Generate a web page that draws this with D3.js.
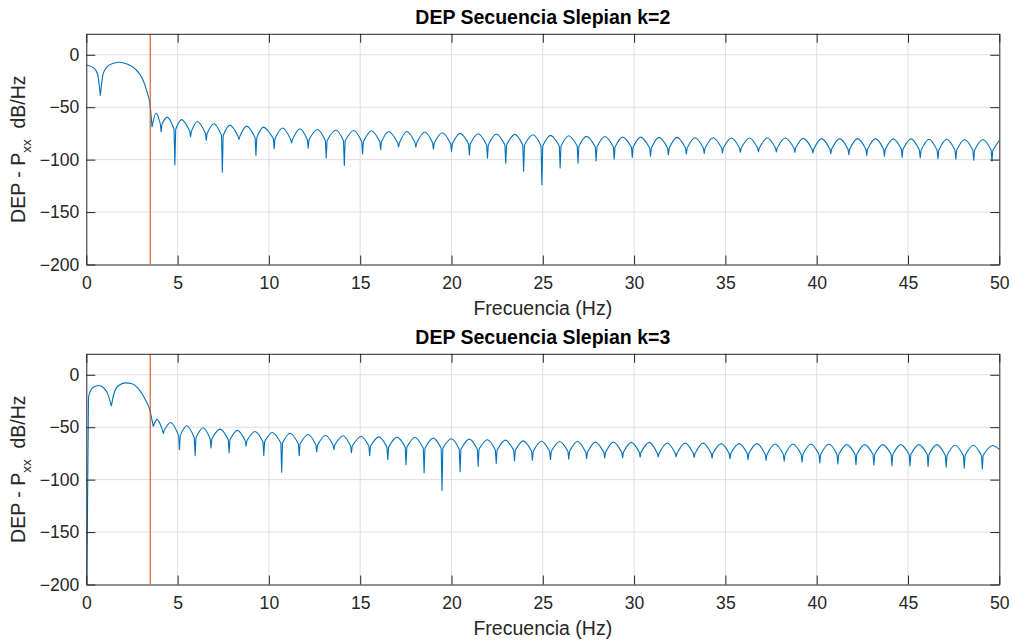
<!DOCTYPE html>
<html>
<head>
<meta charset="utf-8">
<script src="https://cdn.jsdelivr.net/npm/d3@7"></script>
<style>
    body { margin: 0; background: #ffffff; }
    svg { display: block; font-family: "Liberation Sans", Arial, sans-serif; }
    .axis path, .axis line { stroke: #262626; }
    .axis text { fill: #262626; font-size: 17.6px; }
    .grid line { stroke: #dfdfdf; stroke-width: 1; }
    .title { font-weight: bold; font-size: 19.5px; fill: #000; }
    .label { font-size: 19.5px; fill: #262626; white-space: pre; }
</style>
</head>
<body>
<svg id="chart" width="1013" height="644"></svg>
<script>

var freqTicks = [0, 5, 10, 15, 20, 25, 30, 35, 40, 45, 50];
var dbTicks = [-200, -150, -100, -50, 0];
var cutoffFreq = 3.5;

// Curve shape points [freq, dB] (lobe tops and main lobe outline), k=2
var k2Points = [
    [0, -9.7], [0.4, -12.3], [0.62, -18.6],
    [0.91, -19], [1.13, -11.5], [1.5, -8.1], [1.8, -7.2], [2.23, -8.8], [2.68, -13.5], [3.05, -22], [3.32, -35], [3.5, -49],
    [3.82, -55.5], [4.43, -59.5], [5.22, -61.8], [6.08, -63.6], [6.99, -65.8], [7.86, -67.1], [8.78, -68], [9.69, -69],
    [10.75, -69.9], [11.7, -70.6], [12.66, -71.2], [13.67, -71.8], [14.65, -72.2], [15.62, -72.5], [16.55, -73.1],
    [17.56, -73.1], [18.54, -73.7], [19.5, -74.4], [20.47, -75], [21.46, -75.3], [22.46, -75.6], [23.47, -75.9],
    [24.47, -76.3], [25.42, -76.9], [26.42, -77.2], [27.4, -77.8], [28.4, -78], [29.37, -78.5], [30.36, -78.5],
    [31.36, -78.8], [32.35, -78.8], [33.33, -79.1], [34.33, -79.1], [35.33, -79.4], [36.32, -79.4], [37.3, -79.4],
    [38.28, -79.4], [39.27, -79.7], [40.27, -80], [41.26, -80], [42.24, -80], [43.22, -80], [44.2, -80.2],
    [45.17, -80.2], [46.15, -80.5], [47.12, -80.5], [48.1, -80.8], [49.1, -80.8], [50, -81.5]
];

// Nulls [freq, dB where the lobes meet, dB at bottom of the notch], k=2
var k2Nulls = [
    [0.77, -39, -39], [3.6, -69, -69], [4.1, -66, -73.5], [4.85, -71, -105], [5.71, -73, -78], [6.57, -75, -81.6],
    [7.45, -77, -112], [8.36, -78, -80.7], [9.29, -79, -96], [10.29, -80, -89.6], [11.24, -81, -84], [12.15, -81, -89],
    [13.14, -82, -98.4], [14.13, -82, -105.5], [15.13, -83, -94.5], [16.12, -83, -90.5], [17.1, -84, -88],
    [18.05, -84, -88], [19.01, -84, -90], [20.0, -85, -92.3], [20.98, -85, -95.5], [21.97, -86, -98.6],
    [22.97, -86, -103.5], [23.95, -86, -111], [24.95, -87, -124], [25.95, -87, -108], [26.93, -87, -103.5],
    [27.92, -88, -101.2], [28.91, -88, -99.5], [29.9, -88, -98], [30.9, -89, -96.8], [31.88, -89, -95.5],
    [32.86, -89, -94.5], [33.84, -89, -94], [34.84, -89, -93.5], [35.82, -89, -93], [36.81, -89, -92.7],
    [37.79, -89, -92.7], [38.8, -89, -93], [39.79, -90, -93.7], [40.77, -90, -94.3], [41.76, -90, -95.3],
    [42.74, -90, -96], [43.71, -90, -96.8], [44.68, -90, -97.8], [45.67, -91, -98.4], [46.64, -91, -99],
    [47.62, -91, -99.7], [48.6, -91, -100.5], [49.6, -91, -101.5]
];

// Same for k=3
var k3Points = [
    [0.03, -200], [0.12, -22], [0.22, -15.6], [0.4, -11.8], [0.67, -10.2], [0.95, -12.4], [1.22, -20.4],
    [1.5, -18.8], [1.77, -10.2], [2.14, -7.7], [2.5, -8.6], [2.86, -13.4], [3.23, -23.6], [3.5, -35], [3.63, -46],
    [3.87, -42.5], [4.62, -45.5], [5.5, -48.6], [6.4, -50.5], [7.33, -51.8], [8.28, -53], [9.24, -54.1],
    [10.18, -55], [11.16, -55.8], [12.15, -57], [13.1, -57.9], [14.07, -58.2], [15.05, -58.8], [16.03, -59.2],
    [17.02, -59.5], [18.0, -59.8], [19.0, -60.4], [20.0, -61], [20.98, -61.4], [21.97, -62], [22.95, -62.3],
    [23.93, -63], [24.93, -63.4], [25.92, -63.6], [26.9, -63.6], [27.88, -64.2], [28.87, -64.2], [29.85, -64.5],
    [30.83, -64.5], [31.82, -65], [32.8, -65.2], [33.78, -65.2], [34.77, -65.7], [35.75, -65.7], [36.73, -65.7],
    [37.72, -66], [38.7, -66], [39.68, -66], [40.67, -66], [41.65, -66.6], [42.63, -66.6], [43.62, -66.6],
    [44.6, -66.6], [45.6, -66.6], [46.58, -66.6], [47.57, -67.2], [48.57, -67.2], [49.62, -67.4], [50, -71]
];

var k3Nulls = [
    [1.37, -30, -30], [3.67, -49.4, -49.4], [4.22, -53, -56], [5.1, -58, -71.4], [5.96, -60, -77.2],
    [6.83, -61, -69.8], [7.82, -62, -74.6], [8.75, -63, -68], [9.72, -64, -77], [10.7, -65, -93],
    [11.66, -66, -77.2], [12.62, -67, -73.5], [13.56, -67, -71.4], [14.52, -68, -74.3], [15.52, -68, -77.2],
    [16.51, -69, -81], [17.51, -69, -85.8], [18.5, -70, -93.4], [19.48, -70, -110.3], [20.47, -71, -92.5],
    [21.46, -71, -87.3], [22.45, -72, -84.5], [23.45, -72, -82.3], [24.43, -73, -81.5], [25.42, -73, -81],
    [26.42, -73, -80.4], [27.4, -74, -80], [28.39, -74, -79.4], [29.37, -74, -79.2], [30.33, -74, -78.5],
    [31.32, -75, -78.3], [32.3, -75, -78.3], [33.29, -75, -78.8], [34.27, -75, -79.4], [35.25, -75, -80.2],
    [36.24, -75, -81], [37.23, -76, -81.6], [38.22, -76, -82.5], [39.2, -76, -83.4], [40.17, -76, -84.2],
    [41.16, -76, -85], [42.15, -76, -85.7], [43.13, -76, -86], [44.12, -76, -86.6], [45.11, -76, -87],
    [46.1, -76, -87.5], [47.09, -77, -88.2], [48.08, -77, -89], [49.07, -77, -89.8]
];

var panels = [
    { title: 'DEP Secuencia Slepian k=2', top: 33.8, points: k2Points, nulls: k2Nulls },
    { title: 'DEP Secuencia Slepian k=3', top: 353.8, points: k3Points, nulls: k3Nulls }
];

var plotLeft = 86.3;
var plotRight = 999.3;
var plotHeight = 230.7;
var tickLen = 9;
var notchHalfWidth = 0.045;   // Hz, how wide the V of a notch opens at the top

var svg = d3.select('svg#chart');

var x = d3.scaleLinear().domain([0, 50]).range([0, plotRight - plotLeft]);

// Builds one path: smooth lobes between nulls, plus the narrow notch at each null.
function spectrumPath(points, nulls, y) {
    var line = d3.line()
        .x(function(d) { return x(d[0]); })
        .y(function(d) { return y(d[1]); })
        .curve(d3.curveMonotoneX);
    var edges = [null].concat(nulls, [null]);
    var d = '';
    for (var i = 0; i < edges.length - 1; i++) {
        var left = edges[i];
        var right = edges[i + 1];
        var seg = points.filter(function(p) {
            return (!left || p[0] > left[0]) && (!right || p[0] < right[0]);
        });
        if (left) seg.unshift([left[0] + (left[2] < left[1] ? notchHalfWidth : 0), left[1]]);
        if (right) seg.push([right[0] - (right[2] < right[1] ? notchHalfWidth : 0), right[1]]);
        d += line(seg);
    }
    nulls.forEach(function(n) {
        if (n[2] < n[1]) {
            d += 'M' + x(n[0] - notchHalfWidth) + ',' + y(n[1]) +
                 'L' + x(n[0]) + ',' + y(n[2]) +
                 'L' + x(n[0] + notchHalfWidth) + ',' + y(n[1]);
        }
    });
    return d;
}

panels.forEach(function(panel, idx) {
    var y = d3.scaleLinear().domain([-200, 20]).range([plotHeight, 0]);
    var g = svg.append('g').attr('transform', 'translate(' + plotLeft + ',' + panel.top + ')');
    var w = x.range()[1];

    // grid
    var grid = g.append('g').attr('class', 'grid');
    grid.selectAll('.gx').data(freqTicks.slice(1, -1)).enter().append('line')
        .attr('x1', function(d) { return x(d); }).attr('x2', function(d) { return x(d); })
        .attr('y1', 0).attr('y2', plotHeight);
    grid.selectAll('.gy').data(dbTicks.slice(1)).enter().append('line')
        .attr('x1', 0).attr('x2', w)
        .attr('y1', function(d) { return y(d); }).attr('y2', function(d) { return y(d); });

    var clipId = 'clip' + idx;
    g.append('clipPath').attr('id', clipId)
        .append('rect').attr('width', w).attr('height', plotHeight);

    var plot = g.append('g').attr('clip-path', 'url(#' + clipId + ')');

    plot.append('path')
        .attr('d', spectrumPath(panel.points, panel.nulls, y))
        .attr('fill', 'none')
        .attr('stroke', '#0072bd')
        .attr('stroke-width', 1.1)
        .attr('stroke-linejoin', 'round');

    plot.append('line')
        .attr('x1', x(cutoffFreq)).attr('x2', x(cutoffFreq))
        .attr('y1', 0).attr('y2', plotHeight)
        .attr('stroke', '#d95319')
        .attr('stroke-width', 1.1);

    // axes, ticks point inward on all four sides
    g.append('g').attr('class', 'axis')
        .attr('transform', 'translate(0,' + plotHeight + ')')
        .call(d3.axisBottom(x).tickValues(freqTicks).tickSizeInner(-tickLen).tickSizeOuter(0).tickPadding(12));
    g.append('g').attr('class', 'axis')
        .call(d3.axisTop(x).tickValues(freqTicks).tickSizeInner(-tickLen).tickSizeOuter(0).tickFormat(''));
    g.append('g').attr('class', 'axis')
        .call(d3.axisLeft(y).tickValues(dbTicks).tickSizeInner(-tickLen).tickSizeOuter(0).tickPadding(7));
    g.append('g').attr('class', 'axis')
        .attr('transform', 'translate(' + w + ',0)')
        .call(d3.axisRight(y).tickValues(dbTicks).tickSizeInner(-tickLen).tickSizeOuter(0).tickFormat(''));

    g.append('text')
        .attr('class', 'title')
        .attr('x', w / 2).attr('y', -10)
        .attr('text-anchor', 'middle')
        .text(panel.title);

    g.append('text')
        .attr('class', 'label')
        .attr('x', w / 2).attr('y', plotHeight + 51)
        .attr('text-anchor', 'middle')
        .text('Frecuencia (Hz)');

    var ylab = g.append('text')
        .attr('class', 'label')
        .attr('transform', 'translate(' + (25 - plotLeft) + ',' + (plotHeight / 2) + ') rotate(-90)')
        .attr('text-anchor', 'middle');
    ylab.append('tspan').text('DEP - P');
    ylab.append('tspan').attr('dy', 6).attr('font-size', '13.5px').text('xx');
    ylab.append('tspan').attr('dy', -6).text('  dB/Hz');
});

</script>
</body>
</html>
